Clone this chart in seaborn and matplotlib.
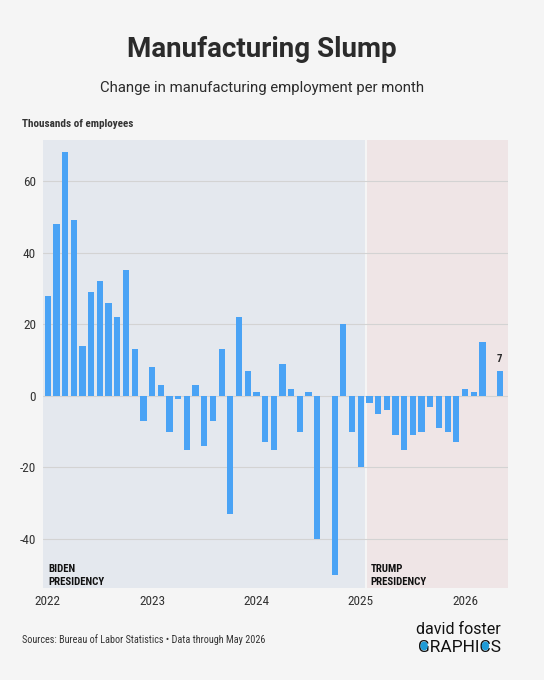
import pandas as pd
import matplotlib.pyplot as plt
import seaborn as sns
import numpy as np
from matplotlib.patches import Circle

# === Data (thousands of jobs, monthly change) ===
months = pd.date_range("2022-01-01", periods=53, freq="MS").strftime("%Y-%m").tolist()
changes = [28, 48, 68, 49, 14, 29, 32, 26, 22, 35, 13, -7,
           8, 3, -10, -1, -15, 3, -14, -7, 13, -33, 22, 7,
           1, -13, -15, 9, 2, -10, 1, -40, 0, -50, 20, -10,
           -20, -2, -5, -4, -11, -15, -11, -10, -3, -9, -10, -13,
           2, 1, 15, 0, 7]
year_ticks = ["2022", "2023", "2024", "2025", "2026"]
y_ticks = [-40, -20, 0, 20, 40, 60]
handover = 36.6  # Jan 20, 2025 in month-index units

BG = "#f5f5f5"
BAR = "#4aa3f5"
BIDEN = "#e4e8ee"
TRUMP = "#efe5e6"
TXT = "#2b2b2b"
LOGO_BLUE = "#1e9bd7"

sns.set_style("white")
plt.rcParams["font.family"] = ["Roboto Condensed", "Liberation Sans Narrow", "Roboto", "DejaVu Sans"]

fig = plt.figure(figsize=(5.44, 6.80), dpi=100, facecolor=BG)
ax = fig.add_axes([0.079, 0.135, 0.855, 0.659])
ax.set_facecolor(BG)

df = pd.DataFrame({"month": months, "change": changes})
sns.barplot(data=df, x="month", y="change", order=months, color=BAR,
            saturation=1, width=0.72, linewidth=0, ax=ax, zorder=3)

xmin, xmax = -0.55, 52.95
ax.set_xlim(xmin, xmax)
ax.set_ylim(-53.7, 71.4)

# presidency shading
ax.axvspan(xmin, handover - 0.08, color=BIDEN, zorder=0, lw=0)
ax.axvspan(handover + 0.08, xmax, color=TRUMP, zorder=0, lw=0)

# gridlines
for y in y_ticks:
    ax.axhline(y, color="#d3d3d3", lw=0.8, zorder=1)

ax.set_yticks(y_ticks)
ax.set_yticklabels([str(v) for v in y_ticks])
ax.set_xticks([0, 12, 24, 36, 48])
ax.set_xticklabels(year_ticks)
ax.tick_params(axis="both", length=0, labelsize=9.5, labelcolor="#333333")
ax.tick_params(axis="y", pad=5)
ax.tick_params(axis="x", pad=5)
ax.set_xlabel("")
ax.set_ylabel("")
for s in ax.spines.values():
    s.set_visible(False)

# annotations
ax.text(0.05, -47.0, "BIDEN\nPRESIDENCY", fontsize=7.8, fontweight="bold",
        color="#111111", va="top", ha="left", linespacing=1.35)
ax.text(37.1, -47.0, "TRUMP\nPRESIDENCY", fontsize=7.8, fontweight="bold",
        color="#111111", va="top", ha="left", linespacing=1.35)
ax.text(52, changes[-1] + 2.0, str(changes[-1]), fontsize=7.8, fontweight="bold",
        color=TXT, ha="center", va="bottom")

# titles
fig.text(0.481, 0.927, "Manufacturing Slump", ha="center", va="center",
         fontsize=20, fontweight="bold", color=TXT, family=["Roboto", "DejaVu Sans"])
fig.text(0.481, 0.870, "Change in manufacturing employment per month", ha="center",
         va="center", fontsize=10.7, color=TXT, family=["Roboto", "DejaVu Sans"])
fig.text(0.04, 0.818, "Thousands of employees", ha="left", va="center",
         fontsize=8.0, fontweight="bold", color="#333333")

# footer
fig.text(0.04, 0.06, "Sources: Bureau of Labor Statistics \u2022 Data through May 2026",
         ha="left", va="center", fontsize=7.3, color="#333333")
fig.text(0.921, 0.075, "david foster", ha="right", va="center", fontsize=11.5,
         color="#111111", family=["Roboto", "DejaVu Sans"])
logo_kw = dict(fontsize=12.5, color="#111111", family=["Roboto", "DejaVu Sans"])
logo_base = 0.041
logo = fig.text(0.921, logo_base, "GRAPHICS", ha="right", va="baseline", **logo_kw)

# blue discs inside the G and the C of the logo
fig.canvas.draw()
renderer = fig.canvas.get_renderer()
bb = logo.get_window_extent(renderer)
x0 = bb.x0
def width_of(s):
    t = fig.text(0, 0, s, **logo_kw)
    w = t.get_window_extent(renderer).width
    t.remove()
    return w
w_g = width_of("G")
w_pre_c = width_of("GRAPHI")
w_c = width_of("C")
cap_px = 0.711 * 12.5 * fig.dpi / 72
cy = logo_base * fig.bbox.height + cap_px * 0.5
for cx in (x0 + w_g * 0.52, x0 + w_pre_c + w_c * 0.52):
    fig.patches.append(Circle((cx / fig.bbox.width, cy / fig.bbox.height),
                              3.0 / fig.bbox.width, transform=fig.transFigure,
                              color=LOGO_BLUE, zorder=5))

fig.savefig("out.png", dpi=100, facecolor=BG)
